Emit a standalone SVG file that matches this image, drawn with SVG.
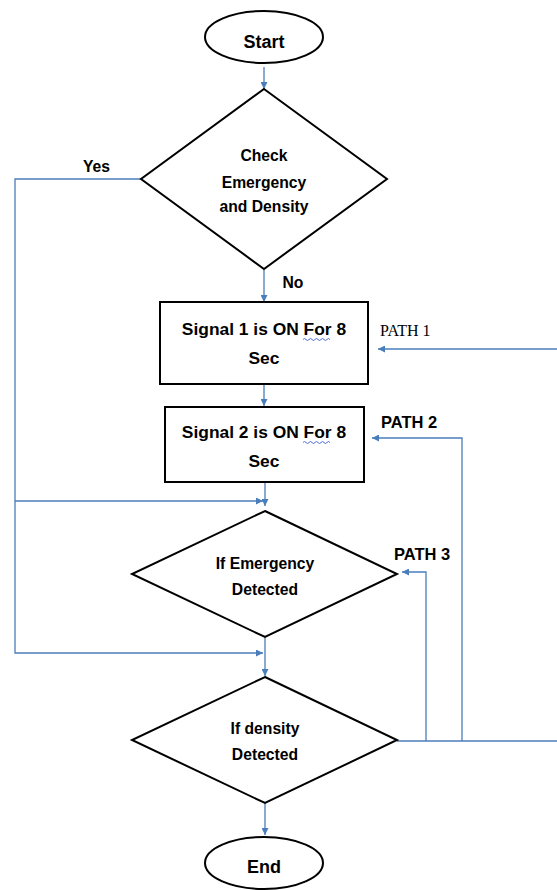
<svg xmlns="http://www.w3.org/2000/svg" width="557" height="890" viewBox="0 0 557 890">
  <style>
    .shape { fill: #ffffff; stroke: #000000; stroke-width: 2; }
    .conn { fill: none; stroke: #4A7EBB; stroke-width: 1.3; }
    .t { font-family: "Liberation Sans", Arial, sans-serif; font-weight: bold; fill: #000000; text-anchor: middle; }
    .d { font-size: 15.7px; }
    .b { font-size: 17.4px; }
    .term { font-size: 18px; }
    .lbl { font-family: "Liberation Sans", Arial, sans-serif; font-weight: bold; font-size: 16.5px; fill: #000000; }
    .serif { font-family: "Liberation Serif", "Times New Roman", serif; font-size: 16px; fill: #000000; }
    .squig { fill: none; stroke: #3B5BD6; stroke-width: 0.9; }
  </style>
  <defs>
    <marker id="arr" viewBox="0 0 10 10" refX="10" refY="5" markerWidth="7" markerHeight="7" markerUnits="userSpaceOnUse" orient="auto">
      <path d="M0,0 L10,5 L0,10 z" fill="#4A7EBB"/>
    </marker>
  </defs>
  <rect width="557" height="890" fill="#ffffff"/>

  <g id="connectors">
    <line class="conn" x1="264" y1="67" x2="264" y2="89" marker-end="url(#arr)"/>
    <line class="conn" x1="264" y1="270" x2="264" y2="302" marker-end="url(#arr)"/>
    <line class="conn" x1="264" y1="385" x2="264" y2="406" marker-end="url(#arr)"/>
    <line class="conn" x1="265" y1="483" x2="265" y2="506" marker-end="url(#arr)"/>
    <line class="conn" x1="265" y1="637" x2="265" y2="676" marker-end="url(#arr)"/>
    <line class="conn" x1="265" y1="803" x2="265" y2="835" marker-end="url(#arr)"/>
    <polyline class="conn" points="141,179 15,179 15,653 263,653" marker-end="url(#arr)"/>
    <line class="conn" x1="15" y1="501" x2="263" y2="501" marker-end="url(#arr)"/>
    <line class="conn" x1="397" y1="741" x2="557" y2="741"/>
    <line class="conn" x1="557" y1="349" x2="378" y2="349" marker-end="url(#arr)"/>
    <polyline class="conn" points="462,741 462,438 372,438" marker-end="url(#arr)"/>
    <polyline class="conn" points="426,741 426,572 402,572" marker-end="url(#arr)"/>
  </g>

  <g id="start">
    <ellipse class="shape" cx="264" cy="37" rx="59" ry="26"/>
    <text class="t term" x="264" y="48">Start</text>
  </g>

  <g id="check">
    <polygon class="shape" points="264,89 387,179 264,269 141,179"/>
    <text class="t d" x="264" y="160.5">Check</text>
    <text class="t d" x="264" y="187.5">Emergency</text>
    <text class="t d" x="264" y="211.5">and Density</text>
  </g>

  <g id="label-yes">
    <text class="t d" x="96.5" y="171.5">Yes</text>
  </g>
  <g id="label-no">
    <text class="t d" x="293" y="288">No</text>
  </g>

  <g id="signal1">
    <rect class="shape" x="160" y="302" width="208" height="82"/>
    <text class="t b" x="264" y="335">Signal 1 is ON For 8</text>
    <text class="t b" x="264" y="364">Sec</text>
    <path class="squig" d="M303,339.5 q1.5,-2 3,0 t3,0 t3,0 t3,0 t3,0 t3,0 t3,0 t3,0 t3,0"/>
  </g>

  <g id="signal2">
    <rect class="shape" x="165" y="407" width="199" height="75"/>
    <text class="t b" x="264" y="438">Signal 2 is ON For 8</text>
    <text class="t b" x="264" y="467">Sec</text>
    <path class="squig" d="M303,442.5 q1.5,-2 3,0 t3,0 t3,0 t3,0 t3,0 t3,0 t3,0 t3,0 t3,0"/>
  </g>

  <g id="emergency">
    <polygon class="shape" points="265,511 397,574 265,637 132,574"/>
    <text class="t d" x="265" y="568.5">If Emergency</text>
    <text class="t d" x="265" y="594.5">Detected</text>
  </g>

  <g id="density">
    <polygon class="shape" points="265,677 397,740 265,803 132,740"/>
    <text class="t d" x="265" y="733.5">If density</text>
    <text class="t d" x="265" y="759.5">Detected</text>
  </g>

  <g id="end">
    <ellipse class="shape" cx="264" cy="863" rx="59" ry="26"/>
    <text class="t term" x="264" y="873">End</text>
  </g>

  <g id="path-labels">
    <text class="serif" x="380" y="336">PATH 1</text>
    <text class="lbl" x="381" y="428">PATH 2</text>
    <text class="lbl" x="394" y="560">PATH 3</text>
  </g>
</svg>
